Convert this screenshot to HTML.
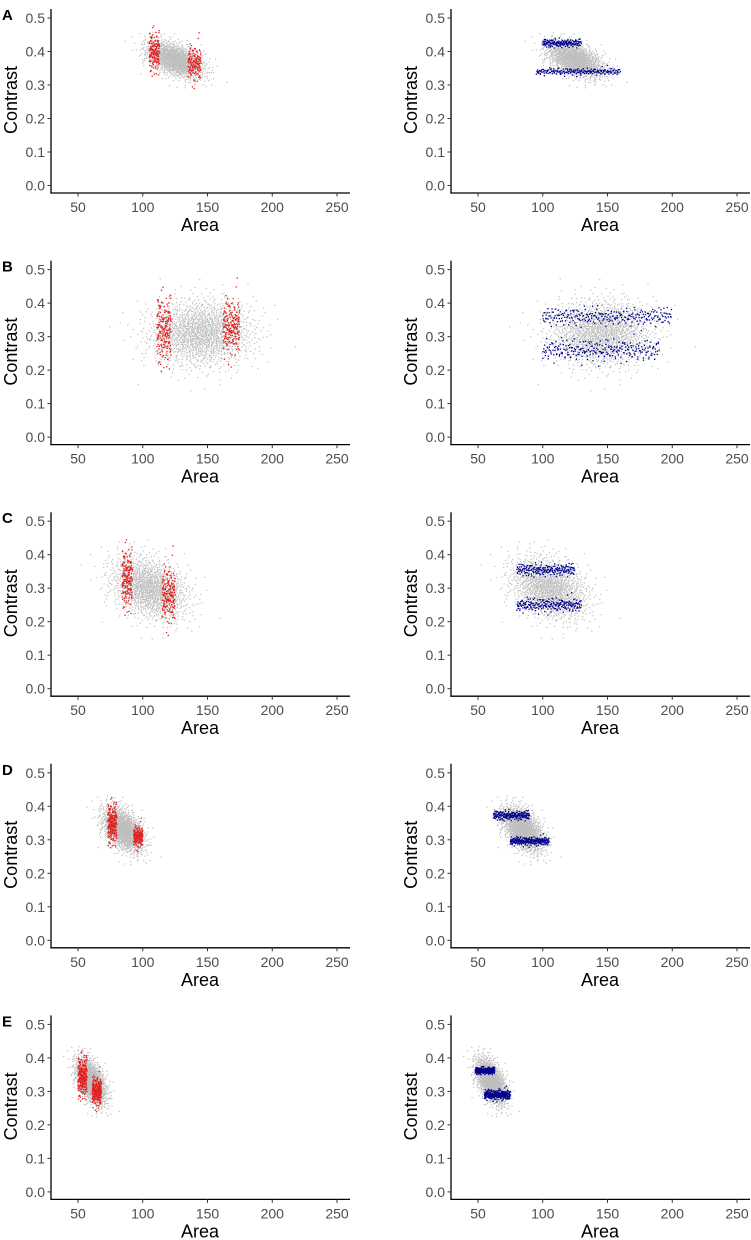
<!DOCTYPE html>
<html><head><meta charset="utf-8"><style>
html,body{margin:0;padding:0;background:#fff;}
svg{display:block;font-family:"Liberation Sans",sans-serif;}
</style></head><body>
<svg id="chart" width="751" height="1240" viewBox="0 0 751 1240"></svg>
<script>
// ---- data (per row A..E) ----
const panelLabels = ["A","B","C","D","E"];
const xTicks = [50,100,150,200,250];
const yTicks = [0.0,0.1,0.2,0.3,0.4,0.5];
const yTickLabels = ["0.0","0.1","0.2","0.3","0.4","0.5"];
// gray cloud: center, spread, tilt (contrast per area unit), count
const grayCx = [125,145,105,85,60];
const grayCy = [0.375,0.31,0.30,0.33,0.33];
const graySx = [11,20,15,8,6];
const graySy = [0.024,0.05,0.045,0.03,0.03];
const grayTilt = [-0.0012,0,-0.001,-0.002,-0.003];
const grayN = [1400,1600,1400,1400,1400];
// red vertical bands (left panel): [x0,x1,yCenter,ySd,count]
const redBand1 = [[105,113,0.40,0.03,150],[111,122,0.32,0.05,200],[84,92,0.33,0.045,180],[73,80,0.35,0.03,220],[50,57,0.345,0.03,250]];
const redBand2 = [[135,145,0.365,0.025,150],[162,175,0.33,0.04,200],[115,125,0.28,0.04,180],[93,100,0.31,0.015,180],[61,68,0.30,0.02,250]];
// blue horizontal bands (right panel): [x0,x1,yCenter,ySd,count]
const blueBand1 = [[100,130,0.425,0.006,160],[100,200,0.36,0.013,250],[80,125,0.355,0.009,200],[62,90,0.373,0.007,200],[48,63,0.362,0.005,250]];
const blueBand2 = [[95,160,0.34,0.005,200],[100,190,0.26,0.016,250],[80,130,0.25,0.01,220],[75,105,0.296,0.006,250],[55,75,0.29,0.007,300]];

const NS="http://www.w3.org/2000/svg";
const svg=document.getElementById('chart');
function mk(tag,attrs,parent){const e=document.createElementNS(NS,tag);for(const k in attrs)e.setAttribute(k,attrs[k]);(parent||svg).appendChild(e);return e;}
function halton(i,b){let f=1,r=0;while(i>0){f/=b;r+=f*(i%b);i=Math.floor(i/b);}return r;}
function gauss(i){const u1=Math.max(halton(i,2),1e-6),u2=halton(i,3);const m=Math.sqrt(-2*Math.log(u1));return [m*Math.cos(2*Math.PI*u2),m*Math.sin(2*Math.PI*u2)];}

const ROW=251.6;
function xScale(v,ox){return ox+78+(v-50)*(259/200);}
function yScale(v,oy){return oy+185.5-v*335;}

function drawPanel(r,side){
  const ox=side*400, oy=r*ROW;
  const g=mk('g',{});
  
  
  const gg=mk('g',{fill:'#bebebe'},g);
  
  
  for(let i=1;i<=grayN[r];i++){
    const z=gauss(i+7);
    const xv=grayCx[r]+z[0]*graySx[r];
    const yv=grayCy[r]+z[1]*graySy[r]+grayTilt[r]*(xv-grayCx[r]);
    mk('rect',{x:(xScale(xv,ox)-0.6).toFixed(1),y:(yScale(yv,oy)-0.6).toFixed(1),width:1.2,height:1.2},gg);
  }
  const bands= side? [blueBand1[r],blueBand2[r]] : [redBand1[r],redBand2[r]];
  const col= side? '#00008b':'#e0201e';
  const cg=mk('g',{fill:col},g);
  
  
  bands.forEach((b,bi)=>{
    for(let i=1;i<=b[4];i++){
      const u=halton(i+bi*500,5);
      const z=gauss(i+bi*500+3);
      const xv=b[0]+(b[1]-b[0])*u, yv=b[2]+z[0]*b[3];
      mk('rect',{x:(xScale(xv,ox)-0.65).toFixed(1),y:(yScale(yv,oy)-0.65).toFixed(1),width:1.3,height:1.3},cg);
    }
  });
  const ax=mk('g',{},g);
  
  
  mk('line',{x1:ox+51,y1:oy+9,x2:ox+51,y2:oy+193.5,stroke:'#000','stroke-width':1.3},ax);
  mk('line',{x1:ox+50.4,y1:oy+193,x2:ox+350,y2:oy+193,stroke:'#000','stroke-width':1.3},ax);
  yTicks.forEach((t,i)=>{
    const y=yScale(t,oy);
    mk('line',{x1:ox+47.5,y1:y,x2:ox+51,y2:y,stroke:'#333','stroke-width':1},ax);
    const tx=mk('text',{x:ox+45,y:y+5,'text-anchor':'end','font-size':14,fill:'#4d4d4d'},ax);
    tx.textContent=yTickLabels[i];
    
    
  });
  xTicks.forEach(t=>{
    const x=xScale(t,ox);
    mk('line',{x1:x,y1:oy+193,x2:x,y2:oy+196.5,stroke:'#333','stroke-width':1},ax);
    const tx=mk('text',{x:x,y:oy+212,'text-anchor':'middle','font-size':14,fill:'#4d4d4d'},ax);
    tx.textContent=String(t);
    
    
  });
  const xt=mk('text',{x:ox+200,y:oy+231,'text-anchor':'middle','font-size':18,fill:'#000'},ax);
  xt.textContent='Area';
  
  
  const yt=mk('text',{x:0,y:0,'text-anchor':'middle','font-size':18,fill:'#000',transform:`translate(${ox+17},${oy+100}) rotate(-90)`},ax);
  yt.textContent='Contrast';
  
  
}
for(let r=0;r<5;r++){
  const pl=mk('text',{x:2,y:r*ROW+20,'font-size':15,'font-weight':'bold',fill:'#000'});
  pl.textContent=panelLabels[r];
  
  
  drawPanel(r,0);drawPanel(r,1);
}
</script>
</body></html>
